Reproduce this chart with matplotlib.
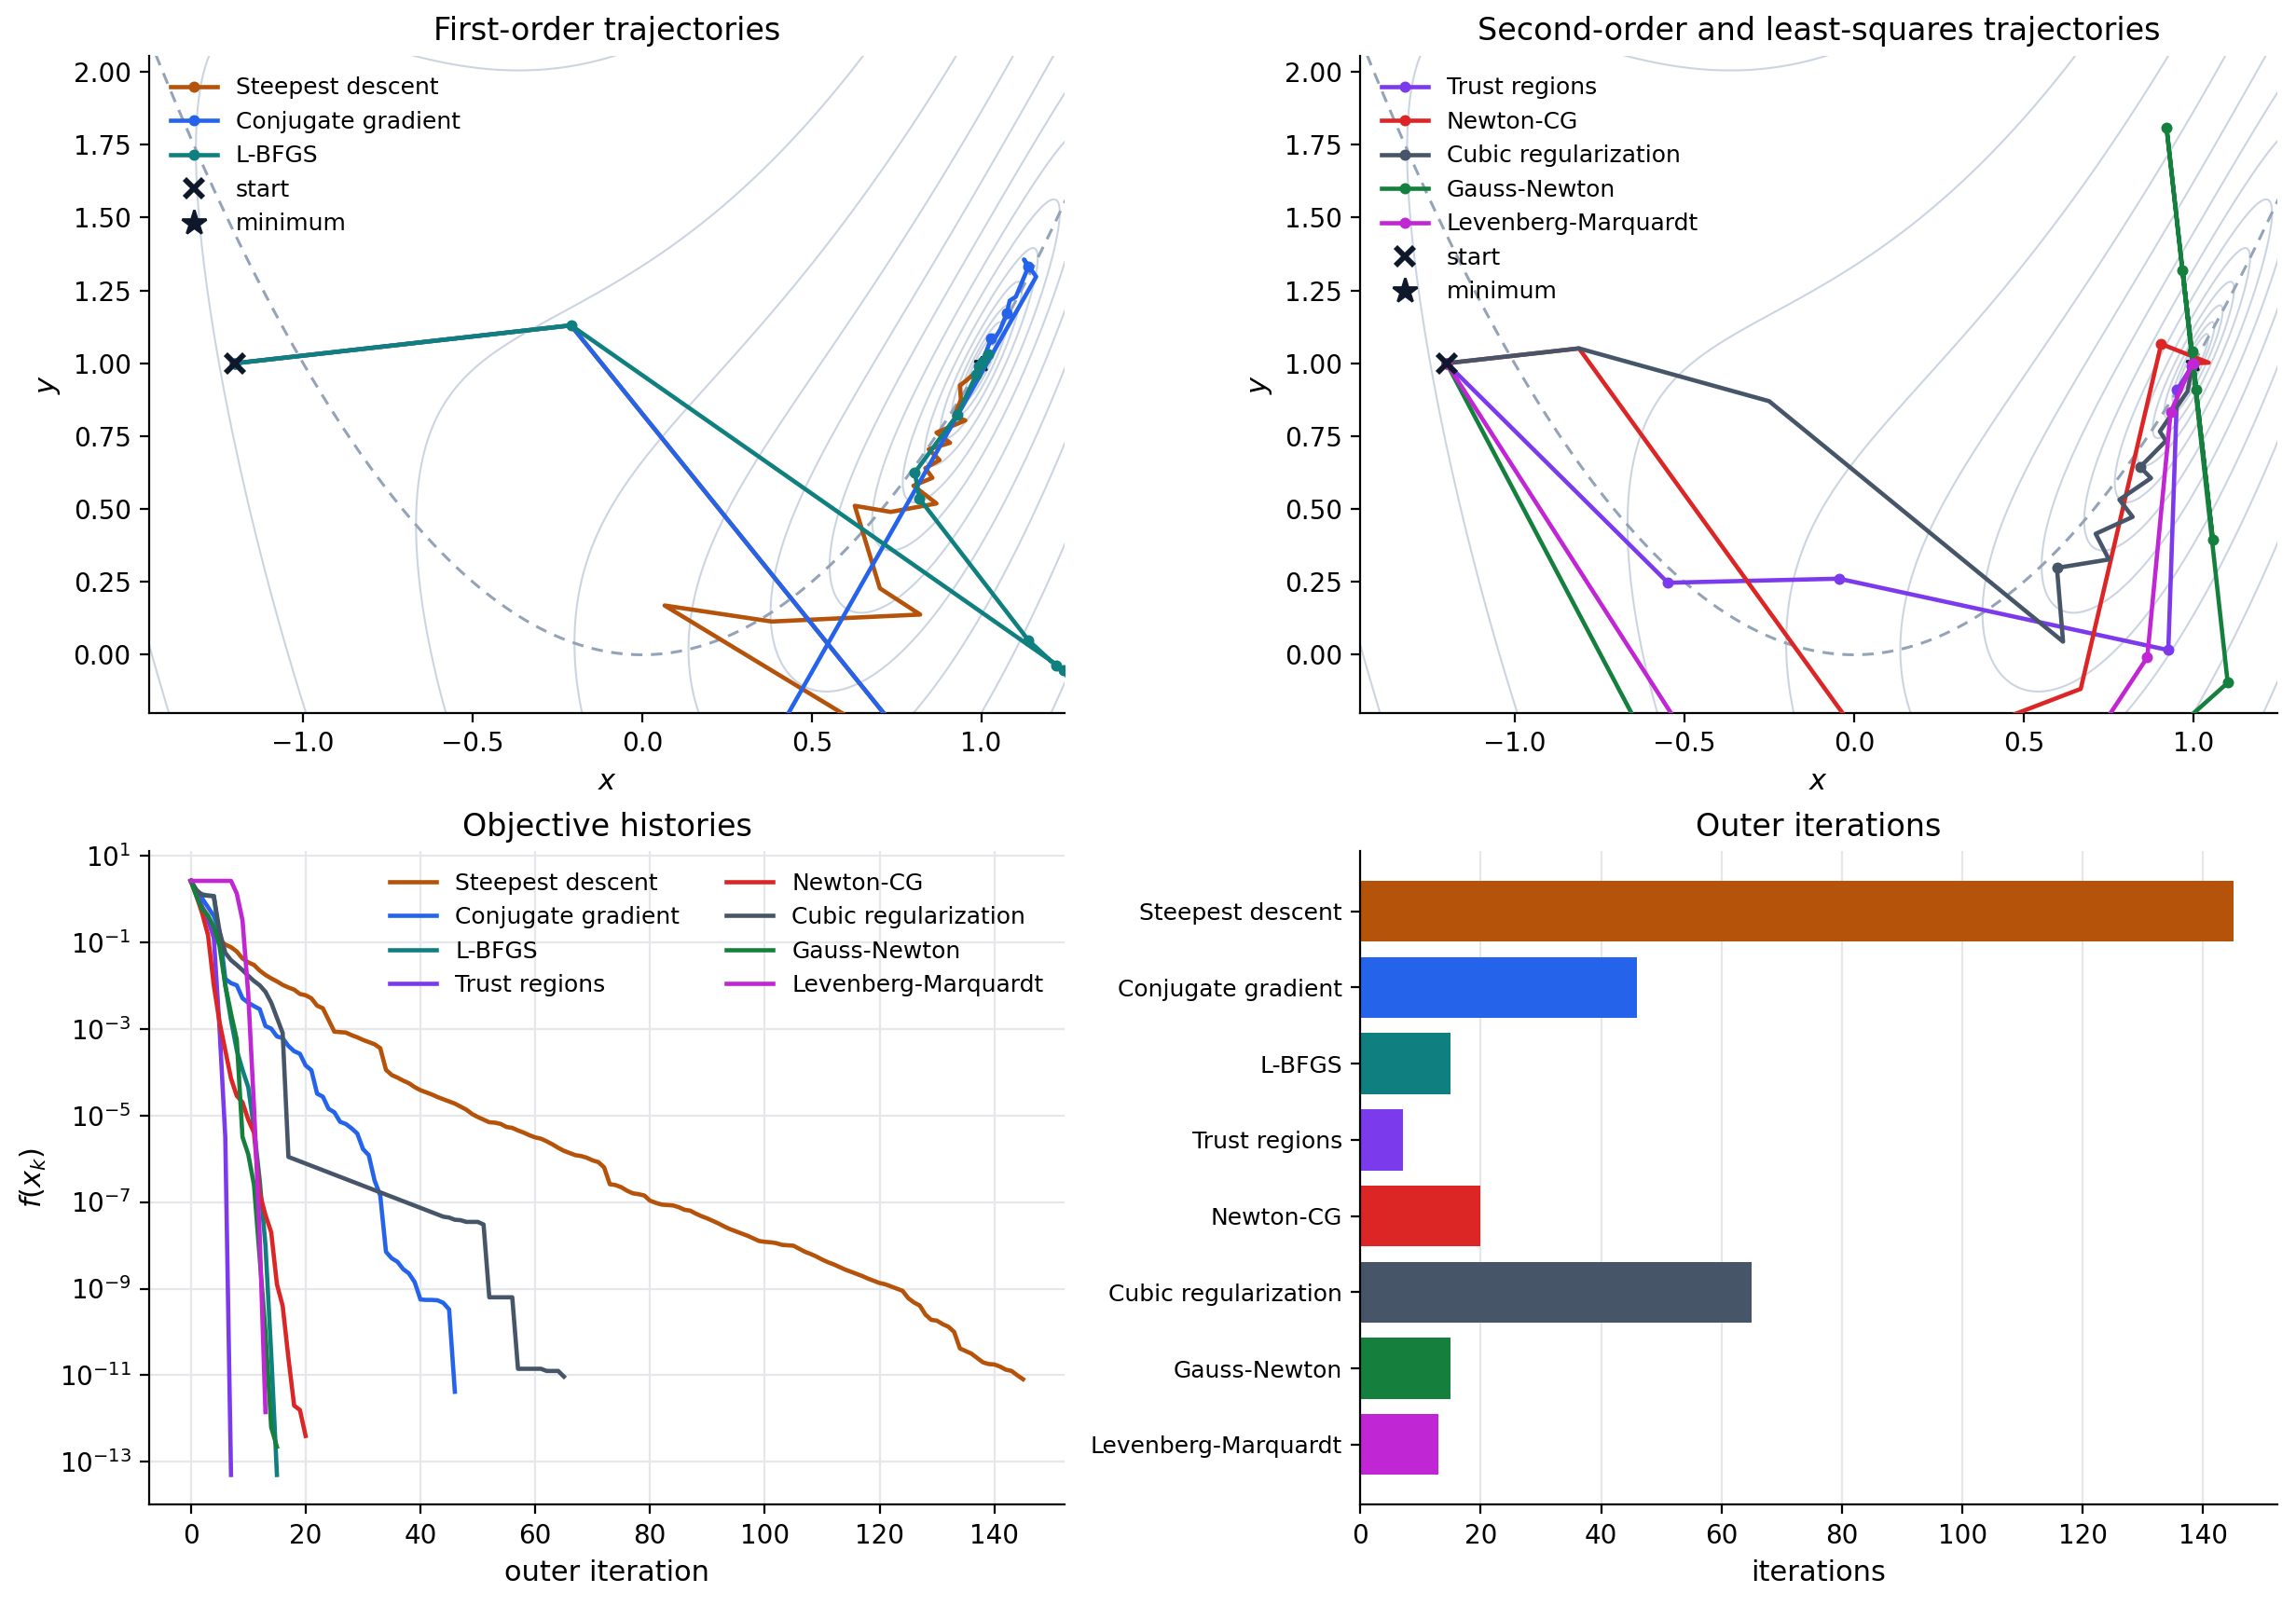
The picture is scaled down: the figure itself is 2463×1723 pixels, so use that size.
import numpy as np
import matplotlib
matplotlib.use("Agg")
import matplotlib.pyplot as plt
from matplotlib.lines import Line2D

# ---------------- data ----------------
start_pt = (-1.2, 1.0)
min_pt = (1.0, 1.0)
contour_levels = np.logspace(-3, 1, 15)
traj_yticks = [0.0, 0.25, 0.5, 0.75, 1.0, 1.25, 1.5, 1.75, 2.0]

# first-order trajectories (x, y)
sd_x = [-1.2, -0.21, 0.83, 0.066, 0.382, 0.820, 0.701, 0.627, 0.733, 0.868, 0.800, 0.856, 0.835,
        0.877, 0.845, 0.908, 0.868, 0.953, 0.920, 0.940, 0.937, 0.955, 0.965, 0.980, 0.990, 1.0]
sd_y = [1.0, 1.13, -0.370, 0.169, 0.114, 0.138, 0.228, 0.511, 0.490, 0.519, 0.580, 0.607, 0.640,
        0.668, 0.705, 0.727, 0.762, 0.804, 0.818, 0.875, 0.924, 0.940, 0.950, 0.965, 0.985, 1.0]
cg_x = [-1.2, -0.21, 0.92, 0.29, 1.162, 1.126, 1.139, 1.102, 1.084, 1.075, 1.056, 1.042, 1.029, 1.015, 1.002, 1.0]
cg_y = [1.0, 1.13, -0.50, -0.49, 1.297, 1.356, 1.331, 1.228, 1.215, 1.171, 1.116, 1.089, 1.084, 1.041, 1.004, 1.0]
lbfgs_x = [-1.2, -0.21, 1.26, 1.244, 1.221, 1.139, 0.818, 0.804, 0.929, 0.985, 1.020, 0.992, 1.003, 1.0]
lbfgs_y = [1.0, 1.13, -0.065, -0.052, -0.038, 0.050, 0.535, 0.625, 0.823, 0.960, 1.030, 0.988, 1.006, 1.0]

# second-order / least-squares trajectories
tr_x = [-1.2, -0.548, -0.044, 0.926, 0.952, 0.995, 1.0]
tr_y = [1.0, 0.247, 0.261, 0.016, 0.908, 0.990, 1.0]
ncg_x = [-1.2, -0.81, 0.078, 0.668, 0.905, 1.045, 1.0]
ncg_y = [1.0, 1.051, -0.38, -0.117, 1.066, 1.002, 1.0]
cubic_x = [-1.2, -0.81, -0.25, 0.616, 0.598, 0.751, 0.712, 0.821, 0.782, 0.875, 0.843, 0.919, 0.901, 0.983, 0.995, 1.0]
cubic_y = [1.0, 1.051, 0.87, 0.045, 0.298, 0.327, 0.415, 0.473, 0.532, 0.606, 0.644, 0.734, 0.766, 0.904, 0.985, 1.0]
gn_x = [-1.2, -0.124, 1.101, 0.921, 1.057, 0.968, 1.008, 0.998, 1.0]
gn_y = [1.0, -1.371, -0.096, 1.807, 0.396, 1.319, 0.910, 1.041, 1.0]
lm_x = [-1.2, 0.10, 0.864, 0.933, 0.997, 1.0]
lm_y = [1.0, -1.36, -0.009, 0.833, 0.998, 1.0]

# objective histories: log10 f(x_k) per outer iteration
sd_logf = [0.41, 0.12, -0.2, -0.4, -0.7, -0.95, -1.06, -1.12, -1.22, -1.38, -1.47, -1.53, -1.66, -1.76, -1.84,
           -1.91, -1.99, -2.05, -2.1, -2.2, -2.23, -2.3, -2.47, -2.53, -2.8, -3.07, -3.08, -3.09, -3.15, -3.2,
           -3.26, -3.31, -3.36, -3.45, -3.95, -4.07, -4.13, -4.2, -4.26, -4.35, -4.42, -4.47, -4.52, -4.58,
           -4.63, -4.68, -4.73, -4.8, -4.87, -4.97, -5.04, -5.1, -5.16, -5.17, -5.2, -5.27, -5.29, -5.35, -5.4,
           -5.46, -5.51, -5.54, -5.6, -5.67, -5.75, -5.82, -5.87, -5.92, -5.94, -5.98, -6.04, -6.08, -6.2,
           -6.59, -6.61, -6.66, -6.74, -6.80, -6.82, -6.85, -6.97, -7.02, -7.06, -7.07, -7.08, -7.12, -7.18,
           -7.2, -7.27, -7.33, -7.38, -7.44, -7.5, -7.57, -7.63, -7.68, -7.73, -7.78, -7.84, -7.9, -7.92,
           -7.93, -7.95, -7.99, -8.0, -8.01, -8.08, -8.15, -8.2, -8.26, -8.33, -8.39, -8.44, -8.5, -8.56,
           -8.61, -8.66, -8.71, -8.77, -8.82, -8.87, -8.9, -8.95, -9.0, -9.05, -9.22, -9.32, -9.39, -9.6,
           -9.72, -9.74, -9.82, -9.88, -10.0, -10.38, -10.44, -10.5, -10.6, -10.7, -10.74, -10.75, -10.8,
           -10.87, -10.9, -11.0, -11.09]
cg_logf = [0.41, 0.15, 0.0, -0.2, -0.4, -0.75, -1.85, -1.95, -2.0, -2.3, -2.4, -2.48, -2.55, -2.94, -3.0,
           -3.18, -3.22, -3.4, -3.52, -3.58, -3.85, -3.96, -4.5, -4.57, -4.85, -4.93, -5.15, -5.2, -5.3,
           -5.42, -5.78, -5.92, -6.5, -6.85, -8.15, -8.3, -8.38, -8.55, -8.65, -8.85, -9.25, -9.26, -9.26,
           -9.27, -9.33, -9.48, -11.38]
lbfgs_logf = [0.41, 0.15, 0.1, 0.07, 0.06, -0.9, -2.0, -2.8, -3.5, -3.95, -4.35, -5.3, -6.5, -8.0, -10.5, -13.3]
tr_logf = [0.41, 0.1, -0.2, -0.5, -0.9, -3.0, -5.5, -13.3]
ncg_logf = [0.41, 0.05, -0.35, -0.85, -2.0, -2.85, -3.5, -4.15, -4.55, -4.7, -5.1, -5.4, -6.8, -7.3, -7.7,
            -8.9, -9.4, -10.6, -11.7, -11.8, -12.4]
cubic_iter = [0, 1, 2, 3, 4, 5, 6, 7, 8, 9, 10, 11, 12, 13, 14, 15, 16, 17, 44, 45, 46, 47, 48, 50, 51, 52,
              56, 57, 61, 62, 64, 65]
cubic_logf = [0.41, 0.2, 0.08, 0.07, 0.06, -0.75, -1.25, -1.42, -1.53, -1.65, -1.78, -1.9, -2.0, -2.15, -2.4,
              -2.75, -3.1, -5.96, -7.34, -7.36, -7.41, -7.42, -7.46, -7.46, -7.52, -9.20, -9.20, -10.85,
              -10.85, -10.90, -10.90, -11.03]
gn_logf = [0.41, 0.05, -0.25, -0.4, -0.65, -1.1, -2.0, -2.65, -3.25, -5.5, -5.9, -6.6, -8.3, -10.0, -12.2, -12.65]
lm_logf = [0.41, 0.41, 0.41, 0.41, 0.41, 0.41, 0.41, 0.41, 0.12, -0.5, -2.2, -4.8, -7.8, -11.85]

# outer iteration counts
methods = ["Steepest descent", "Conjugate gradient", "L-BFGS", "Trust regions", "Newton-CG",
           "Cubic regularization", "Gauss-Newton", "Levenberg-Marquardt"]
iterations = [145, 46, 15, 7, 20, 65, 15, 13]
colors = ["#b45309", "#2563eb", "#0f7f7f", "#7c3aed", "#dc2626", "#475569", "#15803d", "#c026d3"]

dark = "#0f172a"
contour_color = "#cbd5e1"
valley_color = "#94a3b8"

# ---------------- figure ----------------
W, H, DPI = 2463, 1723, 200
fig = plt.figure(figsize=(W / DPI, H / DPI), dpi=DPI)
ax1 = fig.add_axes([0.065, 0.556, 0.3987, 0.4093])
ax2 = fig.add_axes([0.5925, 0.556, 0.3992, 0.4093])
ax3 = fig.add_axes([0.065, 0.0631, 0.3987, 0.4069])
ax4 = fig.add_axes([0.5925, 0.0631, 0.3992, 0.4069])

LW = 1.65
xlim = (-1.454, 1.246)
ylim = (-0.2, 2.055)
gx = np.linspace(-1.6, 1.4, 500)
gy = np.linspace(-0.4, 2.2, 500)
GX, GY = np.meshgrid(gx, gy)
GZ = 0.5 * ((1 - GX) ** 2 + (GY - GX ** 2) ** 2)


def style(ax):
    ax.spines["top"].set_visible(False)
    ax.spines["right"].set_visible(False)
    ax.tick_params(labelsize=10)


def traj_axes(ax, series, title):
    ax.contour(GX, GY, GZ, levels=contour_levels, colors=contour_color, linewidths=0.75, zorder=1)
    ax.plot(gx, gx ** 2, linestyle=(0, (4, 3)), color=valley_color, lw=1.1, zorder=1.5)
    ax.plot([min_pt[0]], [min_pt[1]], linestyle="none", marker="*", ms=6, color=dark, zorder=2)
    handles = []
    for (xs, ys, lab, col, me) in series:
        h, = ax.plot(xs, ys, color=col, lw=LW, marker="o", ms=3.3, markevery=me, label=lab, zorder=3)
        handles.append(h)
    st, = ax.plot([start_pt[0]], [start_pt[1]], linestyle="none", marker="x", ms=7, mew=2.1,
                  color=dark, zorder=4, label="start")
    star_proxy = Line2D([], [], linestyle="none", marker="*", ms=10, color=dark, label="minimum")
    handles += [st, star_proxy]
    ax.set_xlim(*xlim)
    ax.set_ylim(*ylim)
    ax.set_yticks(traj_yticks)
    ax.set_xlabel("$x$", fontsize=11)
    ax.set_ylabel("$y$", fontsize=11)
    ax.set_title(title, fontsize=12)
    ax.legend(handles=handles, loc="upper left", frameon=False, fontsize=9)
    style(ax)


traj_axes(ax1, [
    (sd_x, sd_y, methods[0], colors[0], 30),
    (cg_x, cg_y, methods[1], colors[1], 3),
    (lbfgs_x, lbfgs_y, methods[2], colors[2], 1),
], "First-order trajectories")

traj_axes(ax2, [
    (tr_x, tr_y, methods[3], colors[3], 1),
    (ncg_x, ncg_y, methods[4], colors[4], 4),
    (cubic_x, cubic_y, methods[5], colors[5], (4, 6)),
    (gn_x, gn_y, methods[6], colors[6], 1),
    (lm_x, lm_y, methods[7], colors[7], 1),
], "Second-order and least-squares trajectories")

# objective histories
hist = [
    (np.arange(len(sd_logf)), sd_logf),
    (np.arange(len(cg_logf)), cg_logf),
    (np.arange(len(lbfgs_logf)), lbfgs_logf),
    (np.arange(len(tr_logf)), tr_logf),
    (np.arange(len(ncg_logf)), ncg_logf),
    (np.array(cubic_iter), cubic_logf),
    (np.arange(len(gn_logf)), gn_logf),
    (np.arange(len(lm_logf)), lm_logf),
]
for (it, lf), lab, col in zip(hist, methods, colors):
    ax3.semilogy(it, 10.0 ** np.array(lf), color=col, lw=LW, label=lab)
ax3.set_yticks([10.0 ** k for k in range(1, -14, -2)])
ax3.yaxis.set_minor_locator(matplotlib.ticker.NullLocator())
ax3.grid(True, color="#e5e7eb", lw=0.8)
ax3.set_axisbelow(True)
ax3.set_xlabel("outer iteration", fontsize=11)
ax3.set_ylabel("$f(x_k)$", fontsize=11)
ax3.set_title("Objective histories", fontsize=12)
ax3.legend(ncol=2, loc="upper right", frameon=False, fontsize=9)
style(ax3)

# bar chart
ypos = np.arange(len(methods))
ax4.barh(ypos, iterations, color=colors, height=0.8, zorder=2)
ax4.set_yticks(ypos)
ax4.invert_yaxis()
ax4.grid(True, axis="x", color="#e5e7eb", lw=0.8, zorder=0)
ax4.set_axisbelow(True)
ax4.set_xlabel("iterations", fontsize=11)
ax4.set_title("Outer iterations", fontsize=12)
style(ax4)
ax4.set_yticklabels(methods, fontsize=9)

fig.savefig("out.png", dpi=DPI)
